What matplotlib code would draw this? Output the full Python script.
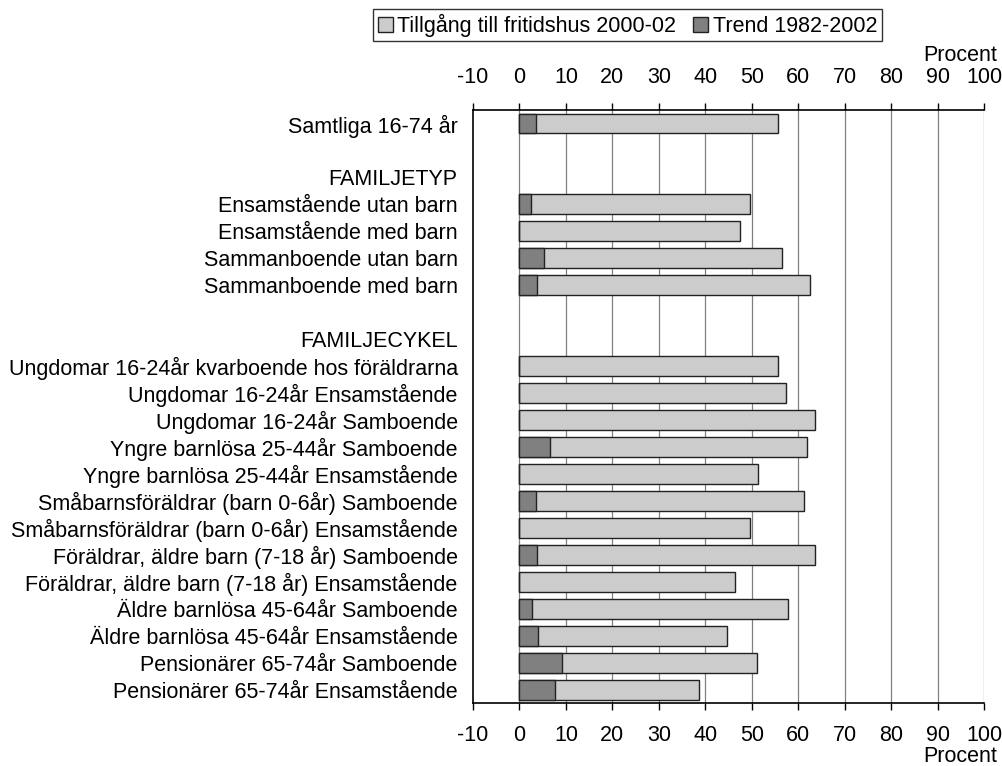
import matplotlib
matplotlib.use("Agg")
import matplotlib.pyplot as plt
import numpy as np

plt.rcParams['font.family'] = ['Liberation Sans', 'DejaVu Sans']

# rows top to bottom ("" = empty row)
labels = ["Samtliga 16-74 år", "", "FAMILJETYP",
          "Ensamstående utan barn", "Ensamstående med barn",
          "Sammanboende utan barn", "Sammanboende med barn", "",
          "FAMILJECYKEL",
          "Ungdomar 16-24år kvarboende hos föräldrarna",
          "Ungdomar 16-24år Ensamstående",
          "Ungdomar 16-24år Samboende",
          "Yngre barnlösa 25-44år Samboende",
          "Yngre barnlösa 25-44år Ensamstående",
          "Småbarnsföräldrar (barn 0-6år) Samboende",
          "Småbarnsföräldrar (barn 0-6år) Ensamstående",
          "Föräldrar, äldre barn (7-18 år) Samboende",
          "Föräldrar, äldre barn (7-18 år) Ensamstående",
          "Äldre barnlösa 45-64år Samboende",
          "Äldre barnlösa 45-64år Ensamstående",
          "Pensionärer 65-74år Samboende",
          "Pensionärer 65-74år Ensamstående"]

tillgang = [55.7, np.nan, np.nan, 49.7, 47.5, 56.6, 62.6, np.nan, np.nan,
            55.6, 57.4, 63.6, 61.9, 51.3, 61.2, 49.7, 63.6, 46.4, 57.7,
            44.6, 51.2, 38.6]
trend = [3.5, np.nan, np.nan, 2.4, 0, 5.2, 3.7, np.nan, np.nan,
         0, 0, 0, 6.5, 0, 3.6, 0, 3.8, 0, 2.7, 4.0, 9.1, 7.6]

ticks = list(range(-10, 101, 10))
fs = 15.5

fig = plt.figure(figsize=(10.03, 7.66), dpi=100)
ax = fig.add_axes([0.4716, 0.0822, 0.5095, 0.7742])

y = np.arange(len(labels))
ax.barh(y, tillgang, height=0.74, color="#cccccc", edgecolor="#222222",
        linewidth=1, label="Tillgång till fritidshus 2000-02", zorder=3)
ax.barh(y, trend, height=0.74, color="#808080", edgecolor="#222222",
        linewidth=1, label="Trend 1982-2002", zorder=4)

ax.set_xlim(-10, 100)
ax.set_ylim(len(labels) - 0.5, -0.5)
ax.set_yticks(y)
ax.set_yticklabels(labels, fontsize=fs)
ax.tick_params(axis='y', length=0, pad=11)

ax.set_xticks(ticks)
ax.set_xticklabels([str(t) for t in ticks], fontsize=fs)
ax.tick_params(axis='x', top=True, labeltop=True, bottom=True,
               labelbottom=True, direction='out', length=5, width=1,
               pad=11)

for t in ticks[1:]:
    ax.axvline(t, color="#808080", linewidth=0.9, zorder=1)

ax.spines['right'].set_visible(False)
for s in ['left', 'top', 'bottom']:
    ax.spines[s].set_linewidth(1.2)

fig.text(0.994, 0.928, "Procent", ha='right', va='center', fontsize=fs)
fig.text(0.994, 0.012, "Procent", ha='right', va='center', fontsize=fs)

leg = ax.legend(loc='center', bbox_to_anchor=(0.6256, 0.967),
                bbox_transform=fig.transFigure, ncol=2, fontsize=fs,
                frameon=True, fancybox=False, edgecolor='black',
                handlelength=0.7, handleheight=0.7, handletextpad=0.2,
                columnspacing=0.8, borderpad=0.2, borderaxespad=0)
leg.get_frame().set_linewidth(1)

fig.savefig("out.png", dpi=100)
